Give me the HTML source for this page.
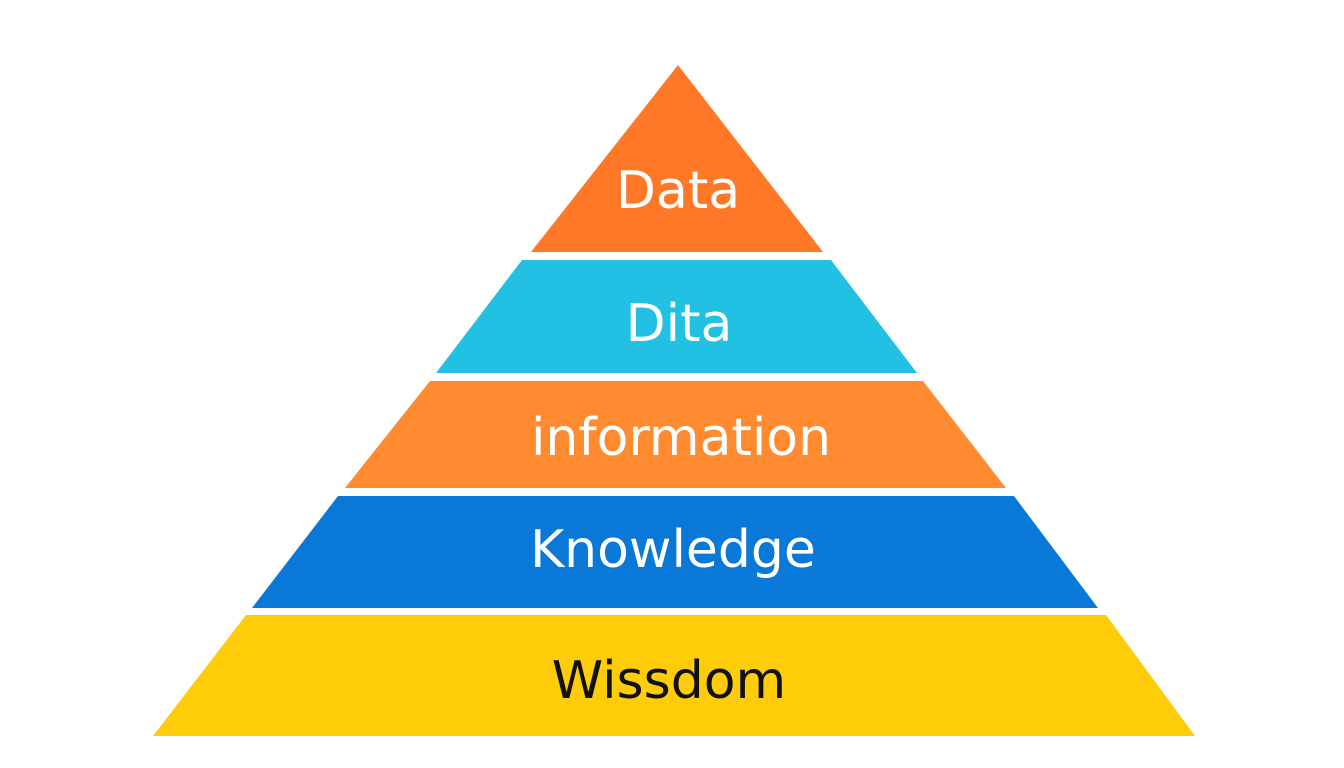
<!DOCTYPE html>
<html><head><style>body{margin:0;background:#fff}svg{display:block}</style></head><body>
<svg width="1344" height="768" viewBox="0 0 1344 768" xmlns="http://www.w3.org/2000/svg">
<polygon points="678,65 823,252 531,252" fill="#FF7828"/>
<polygon points="522,260 831,260 917,373 436,373" fill="#22C0E2"/>
<polygon points="430,381 923,381 1006,488 345,488" fill="#FF8A30"/>
<polygon points="338,496 1014,496 1098,608 252,608" fill="#0A78D6"/>
<polygon points="246,615 1106,615 1195,736 153,736" fill="#FFCC0A"/>
<g font-family="DejaVu Sans, Liberation Sans, sans-serif" font-size="52" text-anchor="middle">
<text x="678" y="208" fill="#fff">Data</text>
<text x="679" y="341" fill="#fff">Dita</text>
<text x="681" y="455" fill="#fff">information</text>
<text x="673" y="567" fill="#fff">Knowledge</text>
<text x="669" y="698" fill="#111">Wissdom</text>
</g>
</svg>
</body></html>
